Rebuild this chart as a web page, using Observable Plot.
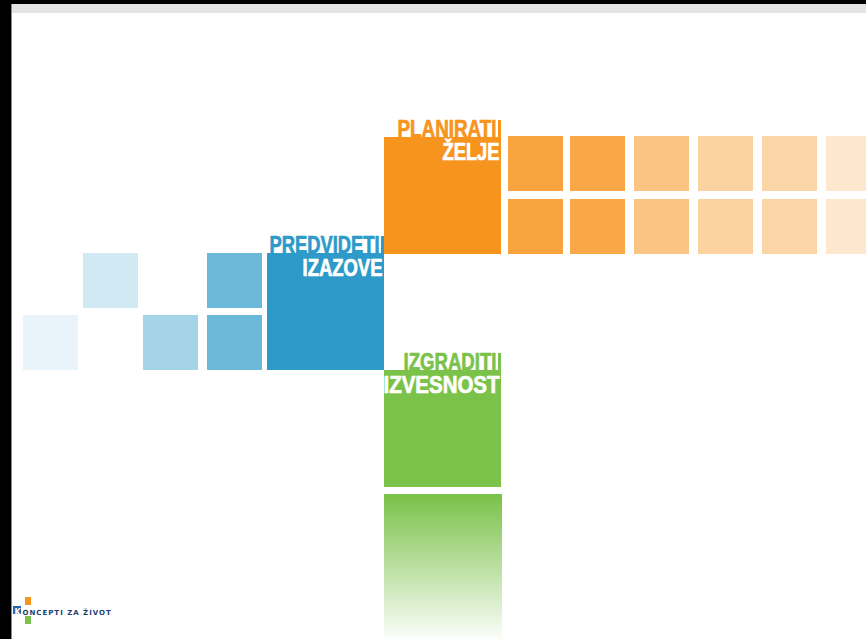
<!DOCTYPE html>
<html>
<head>
<meta charset="utf-8">
<script src="https://cdn.jsdelivr.net/npm/d3@7"></script>
<script src="https://cdn.jsdelivr.net/npm/@observablehq/plot@0.6"></script>
<style>
  html, body { margin: 0; padding: 0; background: #000; width: 866px; height: 639px; overflow: hidden; }
  #sheet { position: absolute; left: 11px; top: 4px; width: 855px; height: 635px; background: #fff;
           border-left: 1px solid #8a8a8a; box-sizing: border-box; }
  #band { position: absolute; left: 0; top: 0; right: 0; height: 9px; background: #e4e4e4; }
  #chart { position: absolute; left: 0; top: 0; }
</style>
</head>
<body>
<div id="sheet"><div id="band"></div></div>
<div id="chart"></div>
<script>
// ---- data (layout units on an 866 x 639 canvas) ----
const smallSize = 55;
const bigSize = 117;

// orange tile strip (two rows, fading to the right)
const orangeCols = [508, 570, 634, 698, 762, 826];
const orangeRows = [136, 199];
const orangeTints = [0.86, 0.81, 0.55, 0.42, 0.39, 0.21];

// blue tiles (fading to the left)
const blueCols = [83, 207, 23, 143, 207];
const blueRows = [253, 253, 315, 315, 315];
const blueTints = [0.22, 0.70, 0.11, 0.43, 0.70];

// big labelled squares
const bigNames = ["orange", "blue", "green"];
const bigX = [384, 267, 384];
const bigY = [137, 253, 370];
const labelTop = ["PLANIRATI", "PREDVIDETI", "IZGRADITI"];
const labelBottom = ["ŽELJE", "IZAZOVE", "IZVESNOST"];
const labelTopWidth = [99, 110, 93];
const labelBottomWidth = [57, 80, 116];

// fading green block under the green square
const fadeX = 384, fadeY = 494, fadeH = 145;

// logo
const logoText = "ONCEPTI ZA ŽIVOT";

const colors = {orange: "#f7941d", blue: "#2e9ac9", green: "#7bc24a", navy: "#22406f"};

// ---- build tables ----
const orangeTiles = orangeRows.flatMap(r => orangeCols.map((c, i) => ({x: c, y: r, t: orangeTints[i]})));
const blueTiles = blueCols.map((c, i) => ({x: c, y: blueRows[i], t: blueTints[i]}));
const bigs = bigNames.map((n, i) => ({name: n, x: bigX[i], y: bigY[i], top: labelTop[i], bottom: labelBottom[i]}));

const font = "'Liberation Sans', 'Arimo', 'DejaVu Sans', sans-serif";

const plot = Plot.plot({
  width: 866, height: 639,
  margin: 0,
  style: {background: "transparent", overflow: "hidden"},
  x: {domain: [0, 866], range: [0, 866], axis: null},
  y: {domain: [0, 639], range: [0, 639], axis: null},
  opacity: {domain: [0, 1], range: [0, 1]},
  marks: [
    Plot.rect(orangeTiles, {x1: "x", x2: d => d.x + smallSize, y1: "y", y2: d => d.y + smallSize,
      fill: colors.orange, fillOpacity: "t"}),
    Plot.rect(blueTiles, {x1: "x", x2: d => d.x + smallSize, y1: "y", y2: d => d.y + smallSize,
      fill: colors.blue, fillOpacity: "t"}),
    // big squares
    Plot.rect(bigs, {x1: "x", x2: d => d.x + bigSize, y1: "y", y2: d => d.y + bigSize,
      fill: d => colors[d.name]}),
    // narrow strip rising at the right edge beside the top label
    Plot.rect(bigs, {x1: d => d.x + bigSize - 3, x2: d => d.x + bigSize, y1: d => d.y - 17, y2: "y",
      fill: d => colors[d.name]}),
    // fading green block
    Plot.rect([{x: fadeX, y: fadeY}], {x1: "x", x2: d => d.x + bigSize + 1, y1: "y", y2: d => d.y + fadeH,
      fill: "url(#greenFade)"}),
    // labels
    Plot.text(bigs, {x: d => d.x + bigSize - 5, y: d => d.y - 1, text: "top", textAnchor: "end",
      lineAnchor: "bottom", fill: d => colors[d.name], stroke: d => colors[d.name], strokeWidth: 0.7,
      fontFamily: font, fontWeight: "bold", fontSize: 23}),
    Plot.text(bigs, {x: d => d.x + bigSize - 2, y: d => d.y + 22, text: "bottom", textAnchor: "end",
      lineAnchor: "bottom", fill: "#fff", stroke: "#fff", strokeWidth: 0.7,
      fontFamily: font, fontWeight: "bold", fontSize: 23}),
    // logo
    Plot.rect([{x: 25, y: 597}], {x1: "x", x2: d => d.x + 6, y1: "y", y2: d => d.y + 8, fill: colors.orange}),
    Plot.rect([{x: 13, y: 606}], {x1: "x", x2: d => d.x + 8, y1: "y", y2: d => d.y + 8, fill: "#2a64a8"}),
    Plot.rect([{x: 25, y: 616}], {x1: "x", x2: d => d.x + 6, y1: "y", y2: d => d.y + 8, fill: colors.green}),
    Plot.text([{x: 17, y: 614}], {x: "x", y: "y", text: () => "K", lineAnchor: "bottom", fill: "#fff",
      fontFamily: "DejaVu Sans", fontWeight: "bold", fontSize: 8}),
    Plot.text([{x: 22, y: 614}], {x: "x", y: "y", text: () => logoText, textAnchor: "start", lineAnchor: "bottom",
      fill: colors.navy, fontFamily: "DejaVu Sans", fontWeight: "bold", fontSize: 7})
  ]
});

d3.select(plot).insert("defs", ":first-child").html(
  `<linearGradient id="greenFade" x1="0" y1="0" x2="0" y2="1">
     <stop offset="0" stop-color="#79c148" stop-opacity="1"/>
     <stop offset="0.5" stop-color="#7bc24a" stop-opacity="0.52"/>
     <stop offset="1" stop-color="#7bc24a" stop-opacity="0.03"/>
   </linearGradient>`);
document.getElementById("chart").appendChild(plot);

// condensed lettering: fit each label to the width it has in the picture
const textGroups = d3.select(plot).selectAll("g[aria-label='text']").nodes();
d3.select(textGroups[0]).selectAll("text").attr("textLength", (d, i) => labelTopWidth[i]).attr("lengthAdjust", "spacingAndGlyphs");
d3.select(textGroups[1]).selectAll("text").attr("textLength", (d, i) => labelBottomWidth[i]).attr("lengthAdjust", "spacingAndGlyphs");
d3.select(textGroups[3]).attr("letter-spacing", "1");
</script>
</body>
</html>
